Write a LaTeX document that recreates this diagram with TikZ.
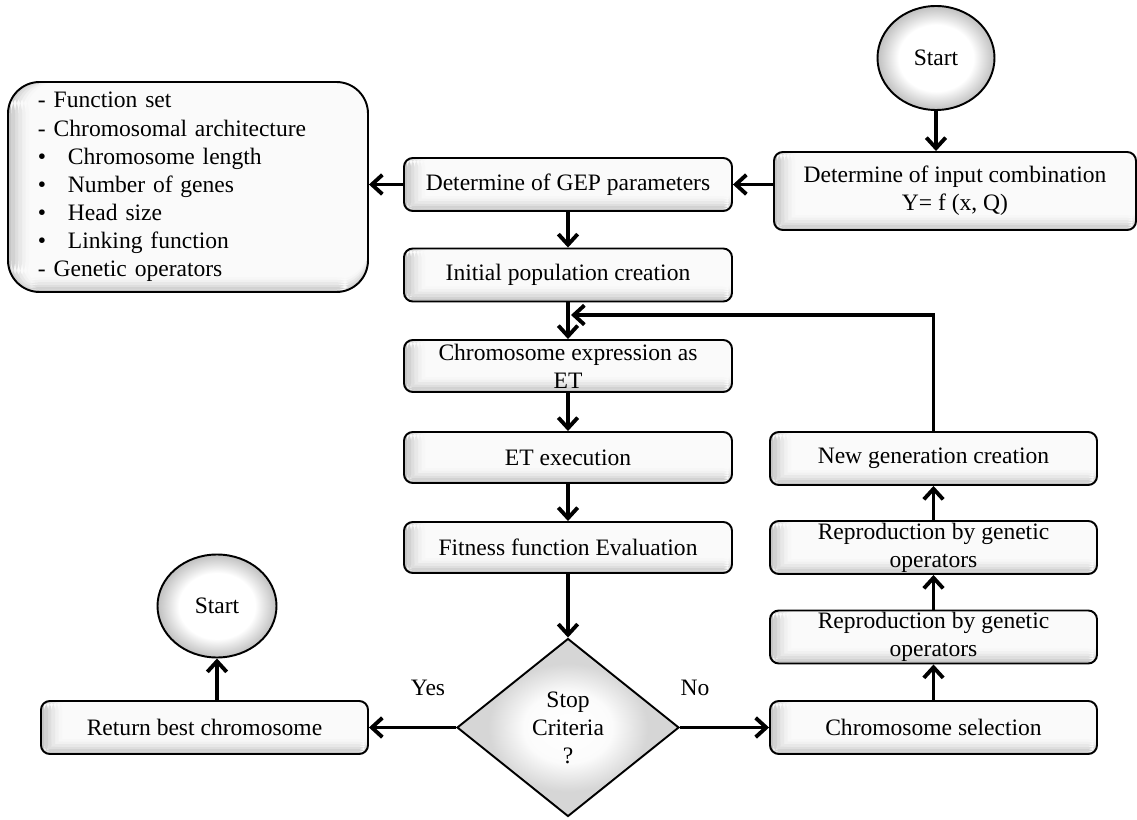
\documentclass[tikz,border=0pt]{standalone}
\usepackage{fontspec}
\setmainfont{Liberation Serif}
\usepackage{tikz}
\usetikzlibrary{shapes.geometric,arrows.meta}

\pgfdeclareradialshading{ballglow}{\pgfpoint{0bp}{0bp}}{color(0bp)=(white); color(16bp)=(white); color(25bp)=(gray!50); color(100bp)=(gray!50)}
\pgfdeclareradialshading{diamondglow}{\pgfpoint{0bp}{0bp}}{color(0bp)=(white); color(10bp)=(gray!3); color(18bp)=(gray!32); color(100bp)=(gray!32)}

\begin{document}
\begin{tikzpicture}
            [
                font=\fontsize{13.4}{16}\selectfont,
                line width=1.1pt,
                >={Straight Barb[length=6pt,width=11pt]}
            ]
            \tikzset{
                glow/.style = {path picture={
                        \foreach \i/\c in {5/6,4/11,3/18,2/26,1/35,0/45} {
                            \fill[gray!\c] ([xshift=\i*2pt]path picture bounding box.south west) rectangle ([xshift=\i*2pt+2pt]path picture bounding box.north west);
                            \fill[gray!\c] ([yshift=\i*1.4pt]path picture bounding box.south west) rectangle ([yshift=\i*1.4pt+1.4pt]path picture bounding box.south east);
                        }
                    }},
                procbox/.style = {rectangle, rounded corners=5pt, draw=black, fill=gray!4, glow, align=center, minimum width=6.56cm, minimum height=1.06cm, inner ysep=0pt},
                startnode/.style = {ellipse, draw=black, shade, shading=ballglow, minimum width=2.34cm, minimum height=2.08cm},
                decision/.style = {diamond, draw=black, shade, shading=diamondglow, align=center, minimum width=4.44cm, minimum height=3.56cm, inner sep=0pt},
                flow/.style = {->, line width=2.2pt}
            }
            \useasboundingbox (0,0) rectangle (22.74,-16.4);
            \node[startnode] (start1) at (18.72,-1.16) {Start};
            \node[procbox, minimum width=7.24cm, minimum height=1.56cm] (input) at (19.1,-3.82) {Determine of input combination\\Y= f (x, Q)};
            \node[procbox] (gep) at (11.36,-3.69) {Determine of GEP parameters};
            \node[procbox, rounded corners=18pt, minimum width=7.2cm, minimum height=4.2cm, text width=6.0cm, align=left] (list) at (3.76,-3.74)
                {- Function set\\
                 - Chromosomal architecture\\
                 \makebox[0.6cm][l]{\textbullet}Chromosome length\\
                 \makebox[0.6cm][l]{\textbullet}Number of genes\\
                 \makebox[0.6cm][l]{\textbullet}Head size\\
                 \makebox[0.6cm][l]{\textbullet}Linking function\\
                 - Genetic operators};
            \node[procbox] (init) at (11.36,-5.5) {Initial population creation};
            \node[procbox, minimum height=1.04cm] (expr) at (11.36,-7.32) {Chromosome expression as\\ET};
            \node[procbox, minimum height=1.02cm] (etex) at (11.36,-9.15) {ET execution};
            \node[procbox, minimum height=1.02cm] (fit) at (11.36,-10.95) {Fitness function Evaluation};
            \node[decision] (crit) at (11.36,-14.55) {Stop\\Criteria\\?};
            \node[procbox, minimum width=6.54cm] (ret) at (4.09,-14.55) {Return best chromosome};
            \node[startnode, minimum width=2.38cm, minimum height=2.06cm] (start2) at (4.34,-12.12) {Start};
            \node[procbox, minimum width=6.54cm] (sel) at (18.67,-14.55) {Chromosome selection};
            \node[procbox, minimum width=6.54cm] (rep1) at (18.67,-12.74) {Reproduction by genetic\\operators};
            \node[procbox, minimum width=6.54cm] (rep2) at (18.67,-10.95) {Reproduction by genetic\\operators};
            \node[procbox, minimum width=6.54cm] (newgen) at (18.67,-9.17) {New generation creation};
            \node (yes) at (8.56,-13.76) {Yes};
            \node (no) at (13.9,-13.76) {No};
            \coordinate (back) at (11.42,-6.3);

            \draw[flow] (start1.south) -- (start1.south |- input.north);
            \draw[flow] (input.west |- gep.east) -- (gep.east);
            \draw[flow] (gep.west) -- (gep.west -| list.east);
            \draw[flow] (gep) -- (init);
            \draw[flow] (init) -- (expr);
            \draw[flow] (expr) -- (etex);
            \draw[flow] (etex) -- (fit);
            \draw[flow] (fit) -- (crit);
            \draw[flow] (crit) -- (ret);
            \draw[flow] (crit) -- (sel);
            \draw[flow] (start2.south |- ret.north) -- (start2.south);
            \draw[flow] (sel) -- (rep1);
            \draw[flow] (rep1) -- (rep2);
            \draw[flow] (rep2) -- (newgen);
            \draw[flow] (newgen.north) |- (back);
        \end{tikzpicture}
\end{document}
